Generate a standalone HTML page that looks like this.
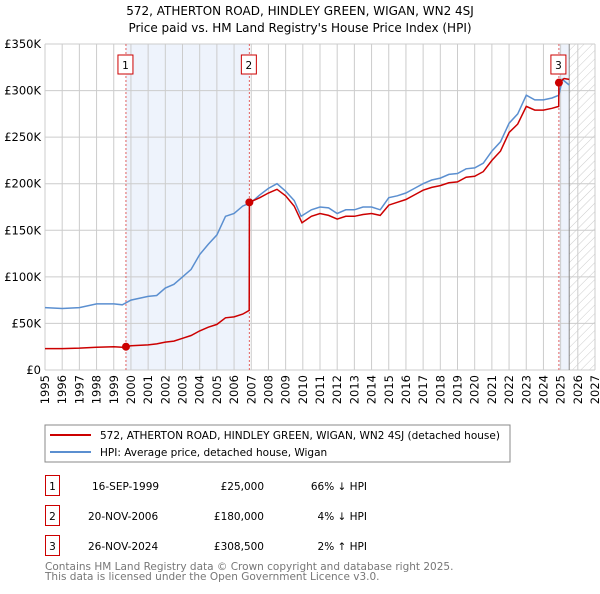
<!DOCTYPE html>
<html><head><meta charset="utf-8"><style>
body{margin:0;background:#fff;font-family:"DejaVu Sans","Liberation Sans",sans-serif;}
svg text{font-family:"DejaVu Sans","Liberation Sans",sans-serif;}
</style></head><body>
<svg id="c" width="600" height="590" xmlns="http://www.w3.org/2000/svg">
<defs><pattern id="hatch" width="6" height="6" patternUnits="userSpaceOnUse" patternTransform="rotate(45)"><line x1="0" y1="0" x2="0" y2="6" stroke="#ccc" stroke-width="1"/></pattern></defs>
<text x="300" y="15" text-anchor="middle" font-size="12">572, ATHERTON ROAD, HINDLEY GREEN, WIGAN, WN2 4SJ</text>
<text x="300" y="32" text-anchor="middle" font-size="12">Price paid vs. HM Land Registry's House Price Index (HPI)</text>
<g id="plot"></g>
<rect x="45" y="425" width="465" height="37" fill="#fff" stroke="#888"/>
<line x1="50" y1="435" x2="91" y2="435" stroke="#cc0000" stroke-width="2"/>
<text x="100" y="439" font-size="10.5">572, ATHERTON ROAD, HINDLEY GREEN, WIGAN, WN2 4SJ (detached house)</text>
<line x1="50" y1="452" x2="91" y2="452" stroke="#5b8fd0" stroke-width="2"/>
<text x="100" y="456" font-size="10.5">HPI: Average price, detached house, Wigan</text>
<g font-size="10.5">
<rect x="45.5" y="475.5" width="14" height="20" fill="none" stroke="#cc0000"/><text x="52.5" y="490" text-anchor="middle">1</text>
<text x="92" y="490">16-SEP-1999</text><text x="264" y="490" text-anchor="end">£25,000</text><text x="367" y="490" text-anchor="end">66% ↓ HPI</text>
<rect x="45.5" y="505.5" width="14" height="20" fill="none" stroke="#cc0000"/><text x="52.5" y="520" text-anchor="middle">2</text>
<text x="88" y="520">20-NOV-2006</text><text x="264" y="520" text-anchor="end">£180,000</text><text x="367" y="520" text-anchor="end">4% ↓ HPI</text>
<rect x="45.5" y="535.5" width="14" height="20" fill="none" stroke="#cc0000"/><text x="52.5" y="550" text-anchor="middle">3</text>
<text x="88" y="550">26-NOV-2024</text><text x="264" y="550" text-anchor="end">£308,500</text><text x="367" y="550" text-anchor="end">2% ↑ HPI</text>
</g>
<text x="45" y="570" font-size="10.5" fill="#777">Contains HM Land Registry data © Crown copyright and database right 2025.</text>
<text x="45" y="580" font-size="10.5" fill="#777">This data is licensed under the Open Government Licence v3.0.</text>
</svg>
<script>
const yTicks=[0,50,100,150,200,250,300,350];
const xYears=[1995,1996,1997,1998,1999,2000,2001,2002,2003,2004,2005,2006,2007,2008,2009,2010,2011,2012,2013,2014,2015,2016,2017,2018,2019,2020,2021,2022,2023,2024,2025,2026,2027];
const hpiDates=[1995,1996,1997,1998,1999,1999.5,2000,2001,2001.5,2002,2002.5,2003,2003.5,2004,2004.5,2005,2005.5,2006,2006.5,2007,2007.5,2008,2008.5,2009,2009.5,2009.9,2010.5,2011,2011.5,2012,2012.5,2013,2013.5,2014,2014.5,2015,2015.5,2016,2016.5,2017,2017.5,2018,2018.5,2019,2019.5,2020,2020.5,2021,2021.5,2022,2022.5,2023,2023.5,2024,2024.5,2024.9,2025.1,2025.5];
const hpiValues=[67,66,67,71,71,70,75,79,80,88,92,100,108,124,135,145,165,168,176,180,188,195,200,192,182,165,172,175,174,168,172,172,175,175,172,185,187,190,195,200,204,206,210,211,216,217,222,235,245,265,275,295,290,290,292,295,312,306];
const priceDates=[1995,1996,1997,1998,1999,1999.5,1999.71,2000,2001,2001.5,2002,2002.5,2003,2003.5,2004,2004.5,2005,2005.5,2006,2006.5,2006.88,2006.89,2007.5,2008,2008.5,2009,2009.5,2009.95,2010.5,2011,2011.5,2012,2012.5,2013,2013.5,2014,2014.5,2015,2015.5,2016,2016.5,2017,2017.5,2018,2018.5,2019,2019.5,2020,2020.5,2021,2021.5,2022,2022.5,2023,2023.5,2024,2024.5,2024.89,2024.9,2025.2,2025.5];
const priceValues=[23,23,23.5,24.5,25,24.5,25,26,27,28,30,31,34,37,42,46,49,56,57,60,64,180,185,190,194,187,176,158,165,168,166,162,165,165,167,168,166,177,180,183,188,193,196,198,201,202,207,208,213,225,235,255,264,283,279,279,281,283,308.5,313,312];
const saleDates=[1999.71,2006.89,2024.9];
const saleValues=[25,180,308.5];
const saleLabels=["1","2","3"];
const NS="http://www.w3.org/2000/svg";
const X0=45,X1=595,Y0=370,Y1=44;
const xs=d=>X0+(d-1995)/(2027-1995)*(X1-X0);
const ys=v=>Y0-v/350*(Y0-Y1);
const g=document.getElementById('plot');
function mk(t,a){const e=document.createElementNS(NS,t);for(const k in a)e.setAttribute(k,a[k]);g.appendChild(e);return e;}
let e;
e=mk('rect',{x:xs(saleDates[0]),y:Y1,width:xs(saleDates[1])-xs(saleDates[0]),height:Y0-Y1,fill:'#eef3fc'});


e=mk('rect',{x:xs(saleDates[2]),y:Y1,width:xs(2025.5)-xs(saleDates[2]),height:Y0-Y1,fill:'#eef3fc'});


e=mk('rect',{x:xs(2025.5),y:Y1,width:X1-xs(2025.5),height:Y0-Y1,fill:'url(#hatch)'});


yTicks.forEach(t=>{
 e=mk('line',{x1:X0,x2:X1,y1:ys(t),y2:ys(t),stroke:'#ccc'});
 
 
 e=mk('text',{x:X0-4,y:ys(t)+4,'text-anchor':'end','font-size':'11.5'});e.textContent=t===0?'£0':'£'+t+'K';
 
 
});
xYears.forEach(yr=>{
 e=mk('line',{x1:xs(yr),x2:xs(yr),y1:Y1,y2:Y0,stroke:'#ccc'});
 
 
 e=mk('text',{x:0,y:0,'text-anchor':'end','font-size':'11.5',transform:`translate(${xs(yr)+4},${Y0+5}) rotate(-90)`});e.textContent=yr;
 
 
});
e=mk('line',{x1:xs(2025.5),x2:xs(2025.5),y1:Y1,y2:Y0,stroke:'#888'});


saleDates.forEach((d,i)=>{
 e=mk('line',{x1:xs(d),x2:xs(d),y1:Y1,y2:Y0,stroke:'#e06060','stroke-dasharray':'2,2'});
 
 
});
function path(ds,vs,col,name){
 const p=ds.map((d,i)=>(i?'L':'M')+xs(d).toFixed(1)+','+ys(vs[i]).toFixed(1)).join('');
 e=mk('path',{d:p,fill:'none',stroke:col,'stroke-width':'1.5'});
 
 
}
path(hpiDates,hpiValues,'#5b8fd0','hpi-line');
path(priceDates,priceValues,'#cc0000','price-line');
saleDates.forEach((d,i)=>{
 e=mk('circle',{cx:xs(d),cy:ys(saleValues[i]),r:4,fill:'#cc0000'});
 
 
 e=mk('rect',{x:xs(d)-8,y:55,width:15,height:19,fill:'#fff',stroke:'#cc0000'});
 
 
 e=mk('text',{x:xs(d)-0.5,y:69,'text-anchor':'middle','font-size':'10.5'});e.textContent=saleLabels[i];
 
 
});
</script>
</body></html>
